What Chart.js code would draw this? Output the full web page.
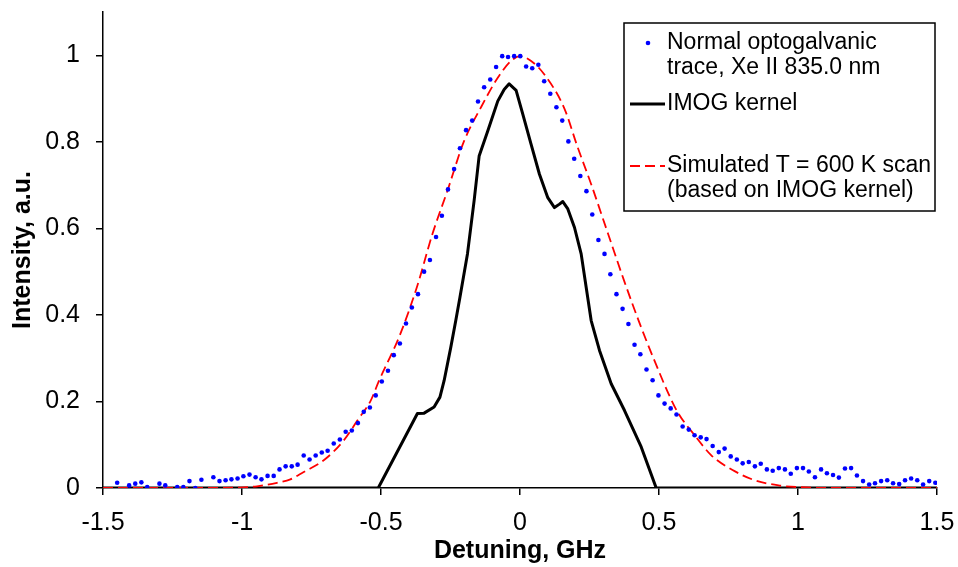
<!DOCTYPE html>
<html>
<head>
<meta charset="utf-8">
<script src="https://cdn.jsdelivr.net/npm/chart.js@4.4.1/dist/chart.umd.min.js"></script>
<style>
  html, body { margin: 0; padding: 0; background: #fff; }
  #wrap { width: 958px; height: 567px; position: relative; }
</style>
</head>
<body>
<div id="wrap"><canvas id="scanChart"></canvas></div>
<script>
// detuning ticks, GHz
const xTicks = [-1.5, -1, -0.5, 0, 0.5, 1, 1.5];
const yTicks = [0, 0.2, 0.4, 0.6, 0.8, 1];

// normal optogalvanic trace, Xe II 835.0 nm (blue dots)
const traceX = [
  -1.449, -1.406, -1.384, -1.362, -1.341, -1.297, -1.276, -1.233, -1.211, -1.189,
  -1.168, -1.146, -1.103, -1.081, -1.059, -1.038, -1.016, -0.995, -0.973, -0.951,
  -0.930, -0.908, -0.886, -0.865, -0.843, -0.821, -0.800, -0.778, -0.757, -0.735,
  -0.713, -0.692, -0.670, -0.648, -0.627, -0.605, -0.583, -0.562, -0.540, -0.519,
  -0.497, -0.475, -0.454, -0.432, -0.410, -0.389, -0.367, -0.345, -0.324, -0.302,
  -0.281, -0.259, -0.237, -0.216, -0.194, -0.172, -0.151, -0.129, -0.107, -0.086,
  -0.064, -0.043, -0.021, 0.001, 0.022, 0.044, 0.066, 0.087, 0.109, 0.131,
  0.152, 0.174, 0.195, 0.217, 0.239, 0.260, 0.282, 0.304, 0.325, 0.347,
  0.369, 0.390, 0.412, 0.433, 0.455, 0.477, 0.498, 0.520, 0.542, 0.563,
  0.585, 0.607, 0.628, 0.650, 0.671, 0.693, 0.715, 0.736, 0.758, 0.780,
  0.801, 0.823, 0.845, 0.866, 0.888, 0.909, 0.931, 0.953, 0.974, 0.996,
  1.018, 1.039, 1.061, 1.083, 1.104, 1.126, 1.147, 1.169, 1.191, 1.212,
  1.234, 1.256, 1.277, 1.299, 1.321, 1.342, 1.364, 1.385, 1.407, 1.429,
  1.450, 1.472, 1.494
];
const traceY = [
  0.012, 0.006, 0.010, 0.013, 0.002, 0.010, 0.006, 0.002, 0.002, 0.016,
  0.000, 0.019, 0.025, 0.016, 0.018, 0.020, 0.022, 0.027, 0.031, 0.025,
  0.020, 0.028, 0.028, 0.043, 0.050, 0.050, 0.054, 0.075, 0.066, 0.075,
  0.082, 0.086, 0.103, 0.112, 0.130, 0.133, 0.150, 0.176, 0.186, 0.214,
  0.246, 0.271, 0.307, 0.334, 0.380, 0.417, 0.448, 0.500, 0.527, 0.580,
  0.629, 0.690, 0.737, 0.785, 0.827, 0.849, 0.893, 0.926, 0.944, 0.973,
  0.998, 0.996, 0.998, 0.998, 0.974, 0.970, 0.978, 0.940, 0.911, 0.880,
  0.849, 0.801, 0.761, 0.721, 0.686, 0.632, 0.573, 0.541, 0.494, 0.448,
  0.414, 0.379, 0.331, 0.309, 0.274, 0.249, 0.214, 0.195, 0.184, 0.170,
  0.142, 0.135, 0.122, 0.117, 0.113, 0.097, 0.083, 0.091, 0.073, 0.066,
  0.057, 0.060, 0.050, 0.056, 0.043, 0.040, 0.046, 0.043, 0.033, 0.046,
  0.046, 0.038, 0.025, 0.043, 0.034, 0.030, 0.024, 0.045, 0.046, 0.029,
  0.016, 0.008, 0.011, 0.016, 0.018, 0.011, 0.009, 0.018, 0.022, 0.018,
  0.008, 0.016, 0.012
];

// IMOG kernel (black line)
const kernelX = [-1.5, -0.510, -0.369, -0.345, -0.309, -0.288, -0.273, -0.249, -0.231, -0.216,
  -0.189, -0.165, -0.147, -0.116, -0.080, -0.057, -0.039, -0.014, 0.010, 0.040,
  0.070, 0.100, 0.124, 0.142, 0.154, 0.172, 0.196, 0.220, 0.238, 0.256,
  0.286, 0.328, 0.376, 0.436, 0.490, 1.5];
const kernelY = [0, 0, 0.172, 0.173, 0.187, 0.210, 0.248, 0.325, 0.387, 0.441,
  0.541, 0.664, 0.767, 0.825, 0.894, 0.921, 0.934, 0.919, 0.864, 0.794,
  0.725, 0.671, 0.648, 0.656, 0.662, 0.645, 0.602, 0.541, 0.464, 0.387,
  0.318, 0.241, 0.179, 0.095, 0, 0];

// simulated T = 600 K scan (red dashed)
const simX = [-1.5, -1.150, -1.006, -0.946, -0.874, -0.826, -0.778, -0.706, -0.634, -0.585,
  -0.537, -0.507, -0.433, -0.369, -0.315, -0.261, -0.201, -0.141, -0.080, -0.032,
  0.000, 0.040, 0.087, 0.159, 0.206, 0.256, 0.317, 0.375, 0.436, 0.498,
  0.534, 0.570, 0.628, 0.689, 0.772, 0.844, 0.930, 1.002, 1.121, 1.5];
const simY = [0, 0, 0.001, 0.004, 0.012, 0.020, 0.037, 0.064, 0.110, 0.156,
  0.202, 0.248, 0.352, 0.468, 0.587, 0.687, 0.802, 0.879, 0.948, 0.987,
  0.998, 0.987, 0.956, 0.878, 0.790, 0.702, 0.587, 0.478, 0.371, 0.272,
  0.218, 0.172, 0.122, 0.075, 0.039, 0.018, 0.006, 0.002, 0, 0];

const pts = (xs, ys) => xs.map((x, i) => ({ x: x, y: ys[i] }));

const FONT = '"Liberation Sans", Arial, sans-serif';

// legend drawn inside the plot, top right
const boxLegend = {
  id: 'boxLegend',
  afterDraw(chart) {
    const ctx = chart.ctx;
    const ds = chart.data.datasets;
    ctx.save();
    ctx.fillStyle = '#fff';
    ctx.fillRect(624, 23, 311, 188);
    ctx.strokeStyle = '#000';
    ctx.lineWidth = 1.5;
    ctx.strokeRect(624, 23, 311, 188);

    ctx.fillStyle = ds[0].backgroundColor;
    ctx.beginPath();
    ctx.arc(648, 43, 2.3, 0, Math.PI * 2);
    ctx.fill();

    ctx.strokeStyle = ds[2].borderColor;
    ctx.lineWidth = ds[2].borderWidth;
    ctx.beginPath();
    ctx.moveTo(630, 104);
    ctx.lineTo(665, 104);
    ctx.stroke();

    ctx.strokeStyle = ds[1].borderColor;
    ctx.lineWidth = ds[1].borderWidth;
    ctx.setLineDash(ds[1].borderDash);
    ctx.beginPath();
    ctx.moveTo(630, 166);
    ctx.lineTo(665, 166);
    ctx.stroke();
    ctx.setLineDash([]);

    ctx.fillStyle = '#000';
    ctx.font = '23px ' + FONT;
    ctx.textBaseline = 'middle';
    ctx.textAlign = 'left';
    ctx.fillText('Normal optogalvanic', 667, 43);
    ctx.fillText('trace, Xe II 835.0 nm', 667, 68);
    ctx.fillText('IMOG kernel', 667, 104);
    ctx.fillText('Simulated T = 600 K scan', 667, 166);
    ctx.fillText('(based on IMOG kernel)', 667, 191);
    ctx.restore();
  }
};

function noPad(axis) {
  axis.paddingTop = 0;
  axis.paddingBottom = 0;
  axis.paddingLeft = 0;
  axis.paddingRight = 0;
}

function drawScan() {
  const ctx = document.getElementById('scanChart').getContext('2d');

  new Chart(ctx, {
    type: 'scatter',
    data: {
      datasets: [
        {
          label: 'Normal optogalvanic trace, Xe II 835.0 nm',
          data: pts(traceX, traceY),
          backgroundColor: '#0000ff',
          borderColor: '#0000ff',
          pointRadius: 2.3,
          pointBorderWidth: 0,
          showLine: false,
        },
        {
          label: 'Simulated T = 600 K scan (based on IMOG kernel)',
          data: pts(simX, simY),
          borderColor: '#ff0000',
          borderWidth: 1.8,
          borderDash: [10, 5],
          pointRadius: 0,
          showLine: true,
          cubicInterpolationMode: 'monotone',
        },
        {
          label: 'IMOG kernel',
          data: pts(kernelX, kernelY),
          borderColor: '#000',
          borderWidth: 3,
          borderJoinStyle: 'round',
          pointRadius: 0,
          showLine: true,
          tension: 0,
        },
      ],
    },
    options: {
      responsive: true,
      maintainAspectRatio: false,
      animation: false,
      layout: { padding: { top: 12, right: 21, left: 0, bottom: 0 } },
      plugins: { legend: { display: false }, tooltip: { enabled: false } },
      scales: {
        x: {
          type: 'linear',
          min: -1.5,
          max: 1.5,
          afterBuildTicks: (axis) => { axis.ticks = xTicks.map(v => ({ value: v })); },
          afterFit: (axis) => { axis.height = 79; noPad(axis); },
          ticks: {
            color: '#000', font: { family: FONT, size: 25 }, padding: 13, maxRotation: 0,
            callback: (v) => String(v),
          },
          grid: { drawOnChartArea: false, color: '#000', tickLength: 7, lineWidth: 1.5 },
          border: { color: '#000', width: 1.5 },
          title: {
            display: true,
            text: 'Detuning, GHz',
            color: '#000',
            font: { family: FONT, size: 25, weight: 'bold' },
            padding: { top: 0, bottom: 1 },
          },
        },
        y: {
          type: 'linear',
          min: 0,
          max: 1.1,
          afterBuildTicks: (axis) => { axis.ticks = yTicks.map(v => ({ value: v })); },
          afterFit: (axis) => { axis.width = 103; noPad(axis); },
          ticks: {
            color: '#000', font: { family: FONT, size: 25 }, padding: 16,
            callback: (v) => String(v),
          },
          grid: { drawOnChartArea: false, color: '#000', tickLength: 7, lineWidth: 1.5 },
          border: { color: '#000', width: 1.5 },
          title: {
            display: true,
            text: 'Intensity, a.u.',
            color: '#000',
            font: { family: FONT, size: 25, weight: 'bold' },
            padding: { top: 8, bottom: 0 },
          },
        },
      },
    },
    plugins: [boxLegend],
  });
}

drawScan();
</script>
</body>
</html>
